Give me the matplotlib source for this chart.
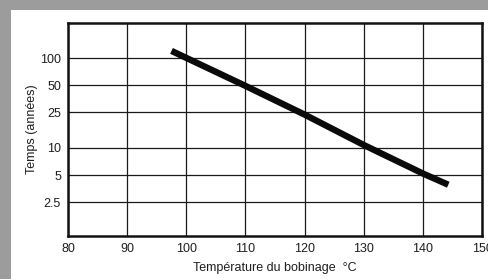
import matplotlib.pyplot as plt
from matplotlib.patches import Rectangle

# winding temperature (°C) vs. insulation life (years)
temperature = [97.5, 110, 120, 130, 140, 144.3]
life_years = [120, 49, 23.5, 10.8, 5.2, 3.9]

x_ticks = [80, 90, 100, 110, 120, 130, 140, 150]
y_ticks = [2.5, 5, 10, 25, 50, 100]
y_tick_labels = ['2.5', '5', '10', '25', '50', '100']

plt.rcParams['font.family'] = ['Liberation Sans', 'DejaVu Sans']

fig = plt.figure(figsize=(4.89, 2.79), dpi=100)
fig.patch.set_facecolor('#9c9c9c')
# white sheet of paper behind the chart
fig.add_artist(Rectangle((11 / 489, 0), 1, 1 - 10 / 279, transform=fig.transFigure,
                         facecolor='white', edgecolor='none', zorder=-5))

ax = fig.add_axes([68 / 489, 1 - 236 / 279, (482 - 68) / 489, (236 - 23) / 279])
ax.set_zorder(2)
ax.set_yscale('log')
ax.set_xlim(80, 150)
ax.set_ylim(1.05, 245)

ax.set_xticks(x_ticks)
ax.set_yticks(y_ticks)
ax.set_yticklabels(y_tick_labels)
ax.yaxis.set_minor_locator(plt.NullLocator())
ax.tick_params(length=0, labelsize=9, colors='#1e1e1e', pad=5)
ax.grid(True, color='#1a1a1a', linewidth=0.9)

for s in ax.spines.values():
    s.set_linewidth(1.8)
    s.set_color('#111111')

ax.plot(temperature, life_years, color='#0a0a0a', linewidth=4.6, solid_capstyle='butt')

ax.set_xlabel('Température du bobinage  °C', fontsize=9, color='#1e1e1e', labelpad=5)
ax.set_ylabel('Temps (années)', fontsize=9, color='#1e1e1e', labelpad=1.5)

fig.savefig('out.png', dpi=100)
